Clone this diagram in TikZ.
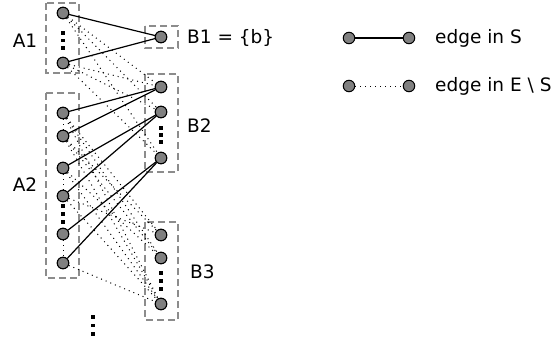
\documentclass[tikz,border=0pt]{standalone}
\usepackage{fontspec}
\setmainfont{DejaVu Sans}
\begin{document}
\begin{tikzpicture}[x=1pt,y=-1pt,
  vtx/.style={circle,draw=black,fill=black!50,line width=1pt,minimum size=11.5pt,inner sep=0pt},
  grp/.style={draw=black!45,dash pattern=on 7pt off 4pt,line width=1.3pt},
  sedge/.style={line width=1.2pt,black},
  dedge/.style={line width=1pt,black,dash pattern=on 1pt off 4pt},
  bdot/.style={fill=black,minimum size=3.4pt,inner sep=0pt,draw=none,rectangle},
  lbl/.style={font=\fontsize{18.5}{22}\selectfont,inner sep=0pt}]
\useasboundingbox (0,0) rectangle (560,343);
% group boxes
\draw[grp] (46,3) rectangle (79,73);
\draw[grp] (145,26) rectangle (178,48);
\draw[grp] (46,93) rectangle (79,278);
\draw[grp] (145,74) rectangle (178,172);
\draw[grp] (145,222) rectangle (178,320);
% nodes
\node[vtx] (a1) at (63,13) {};
\node[vtx] (a2) at (63,63) {};
\node[vtx] (a3) at (63,113) {};
\node[vtx] (a4) at (63,136) {};
\node[vtx] (a5) at (63,168) {};
\node[vtx] (a6) at (63,196) {};
\node[vtx] (a7) at (63,234) {};
\node[vtx] (a8) at (63,263) {};
\node[vtx] (b1) at (161,37) {};
\node[vtx] (b2) at (161,87) {};
\node[vtx] (b3) at (161,112) {};
\node[vtx] (b4) at (161,158) {};
\node[vtx] (b5) at (161,235) {};
\node[vtx] (b6) at (161,258) {};
\node[vtx] (b7) at (161,304) {};
% dotted edges
\foreach \a/\b in {a1/b2,a1/b3,a1/b4,a2/b3,a2/b4,a2/b2,
  a3/b5,a3/b6,a4/b5,a4/b7,a5/b6,a5/b7,a6/b5,a6/b7,a3/b7,a4/b6,a8/b7}
  \draw[dedge] (\a) -- (\b);
\draw[dedge] (a3) -- (a4);
\draw[dedge] (a5) -- (a6);
\draw[dedge] (a7) -- (a8);
% solid edges
\draw[sedge] (a1) -- (b1);
\draw[sedge] (a2) -- (b1);
\draw[sedge] (a3) -- (b2);
\draw[sedge] (a4) -- (b2);
\draw[sedge] (a5) -- (b3);
\draw[sedge] (a6) -- (b3);
\draw[sedge] (a7) -- (b4);
\draw[sedge] (a8) -- (b4);
% redraw nodes on top
\foreach \p in {(63,13),(63,63),(63,113),(63,136),(63,168),(63,196),(63,234),(63,263),(161,37),(161,87),(161,112),(161,158),(161,235),(161,258),(161,304)}
  \node[vtx] at \p {};
% bold ellipses
\foreach \x/\y in {63/33,63/40.5,63/48, 63/206,63/214,63/222, 161/128,161/135,161/142, 161/273,161/281,161/289, 93/317,93/325.5,93/334}
  \node[bdot] at (\x,\y) {};
% labels
\node[lbl] (la1) at (25,41) {A1};
\node[lbl] (la2) at (25,185) {A2};
\node[lbl,anchor=west] (lb1) at (187,38) {B1 = \{b\}};
\node[lbl,anchor=west] (lb2) at (187,126) {B2};
\node[lbl,anchor=west] (lb3) at (190,272) {B3};
% legend
\node[vtx] (l1) at (349,38) {};
\node[vtx] (l2) at (409,38) {};
\node[vtx] (l3) at (349,86) {};
\node[vtx] (l4) at (409,86) {};
\draw[sedge] (l1) -- (l2);
\draw[dedge] (l3) -- (l4);
\node[lbl,anchor=west] (t1) at (435,38) {edge in S};
\node[lbl,anchor=west] (t2) at (435,86) {edge in E \textbackslash{} S};
\end{tikzpicture}
\end{document}
